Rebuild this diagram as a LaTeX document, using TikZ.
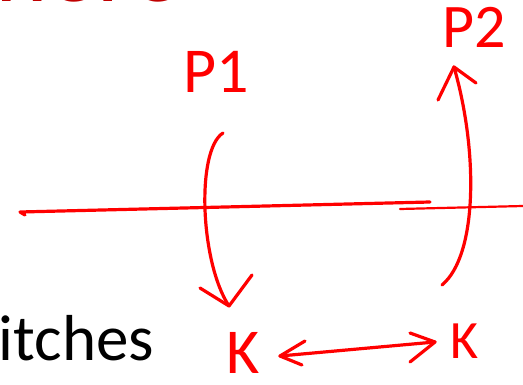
\documentclass[tikz,border=0pt]{standalone}
\usepackage{fontspec}
\setmainfont{Carlito}
\definecolor{titlered}{HTML}{C00000}
\definecolor{penred}{HTML}{FF0000}
\tikzset{
  pen/.style={draw=penred, line width=3.2pt, line cap=round, line join=round},
  lbl/.style={text=penred, inner sep=0pt, outer sep=0pt},
}
\begin{document}
\begin{tikzpicture}[x=1pt, y=-1pt]
\useasboundingbox (0,0) rectangle (523,385);
\clip (0,0) rectangle (523,385);
\fill[white] (0,0) rectangle (523,385);
% slide text
\node[anchor=base west, inner sep=0pt, text=titlered, font=\fontsize{100}{100}\selectfont] (title) at (-5,1.2) {here};
\node[anchor=base west, inner sep=0pt, text=black, font=\fontsize{65}{65}\selectfont] (sw) at (-1.5,360) {itches};
% handwritten labels
\node[lbl, font=\fontsize{64}{64}\selectfont] (P1) at (216,72) {P1};
\node[lbl, font=\fontsize{62}{62}\selectfont] (P2) at (474,27) {P2};
\node[lbl, font=\fontsize{64}{64}\selectfont] (K1) at (243,353) {K};
\node[lbl, font=\fontsize{54}{54}\selectfont] (K2) at (465,341) {K};
% axis lines
\coordinate (h1a) at (20,212);
\coordinate (h1b) at (430,202);
\coordinate (h2a) at (400,209);
\coordinate (h2b) at (523,206);
\draw[pen] (25,215) -- (h1a) -- (h1b);
\draw[pen, line width=2.2pt] (h2a) -- (h2b);
% curved arrow P1 -> K
\coordinate (a1s) at (223,133);
\coordinate (a1e) at (229,306);
\draw[pen] (a1s) .. controls (196,150) and (200,262) .. (a1e);
\draw[pen] (200,288) -- (a1e) -- (252,275);
% curved arrow K -> P2
\coordinate (a2s) at (442,285);
\coordinate (a2e) at (454,67);
\draw[pen] (a2s) .. controls (478,255) and (478,150) .. (a2e);
\draw[pen] (438,100) -- (a2e) -- (476,83);
% double arrow between the K's
\coordinate (dl) at (280,356);
\coordinate (dr) at (435,342);
\draw[pen] (dl) -- (dr);
\draw[pen] (305,341) -- (dl) -- (302,365);
\draw[pen] (410,333) -- (dr) -- (410,362);
\end{tikzpicture}
\end{document}
